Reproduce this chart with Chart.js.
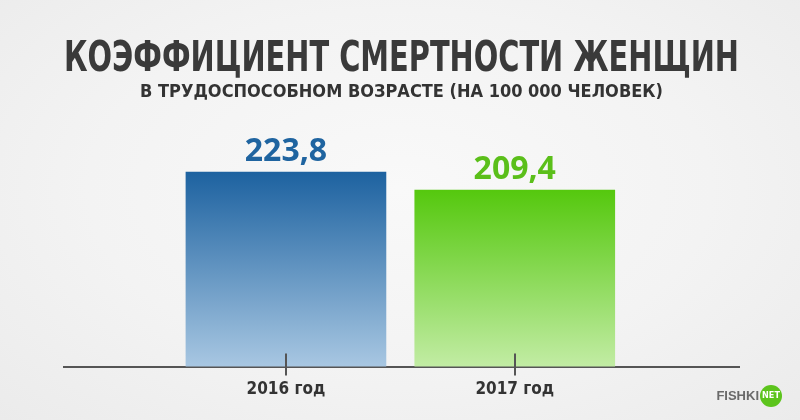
<!DOCTYPE html>
<html>
<head>
<meta charset="utf-8">
<script src="https://cdn.jsdelivr.net/npm/chart.js@4.4.1/dist/chart.umd.min.js"></script>
<style>
    html, body { margin: 0; padding: 0; }
    body {
        width: 800px; height: 420px; overflow: hidden;
        background: radial-gradient(ellipse at 50% 45%, #f9f9f9 0%, #f3f3f3 55%, #ebebeb 100%);
    }
    #wrap { width: 800px; height: 420px; }
</style>
</head>
<body>
<div id="wrap"><canvas id="chart"></canvas></div>
<script>
const years = ['2016 год', '2017 год'];
const rates = [223.8, 209.4];
const barTop = ['#1d62a0', '#55c80e'];
const barBottom = ['#a8c7e2', '#c2eca4'];
const labelColors = ['#1f64a0', '#5bbf1a'];

const titleText = 'КОЭФФИЦИЕНТ СМЕРТНОСТИ ЖЕНЩИН';
const subtitleText = 'В ТРУДОСПОСОБНОМ ВОЗРАСТЕ (НА 100 000 ЧЕЛОВЕК)';

const narrow = '"Liberation Sans Narrow", "DejaVu Sans Condensed", sans-serif';

// value labels over the bars, tick marks across the axis, watermark
const extras = {
    id: 'extras',
    afterDatasetsDraw(chart) {
        const ctx = chart.ctx;
        const meta = chart.getDatasetMeta(0);
        ctx.save();
        ctx.font = 'bold 32px "Open Sans", sans-serif';
        ctx.textAlign = 'center';
        ctx.textBaseline = 'middle';
        meta.data.forEach((bar, i) => {
            ctx.fillStyle = labelColors[i];
            ctx.fillText(rates[i].toFixed(1).replace('.', ','), bar.x, bar.y - 20);
        });
        ctx.restore();
    },
    afterDraw(chart) {
        const ctx = chart.ctx;
        const x = chart.scales.x;
        const base = chart.chartArea.bottom;
        ctx.save();
        ctx.strokeStyle = '#555';
        ctx.lineWidth = 2;
        years.forEach((_, i) => {
            const px = Math.round(x.getPixelForValue(i + 1));
            ctx.beginPath();
            ctx.moveTo(px, base - 13);
            ctx.lineTo(px, base + 9);
            ctx.stroke();
        });

        // FISHKI NET
        ctx.font = 'bold 13px "Liberation Sans", Arial, sans-serif';
        ctx.fillStyle = '#6a6a6a';
        ctx.textAlign = 'right';
        ctx.textBaseline = 'middle';
        ctx.fillText('FISHKI', 759, 396);
        ctx.fillStyle = '#5cc41c';
        ctx.beginPath();
        ctx.arc(771, 396, 11, 0, Math.PI * 2);
        ctx.fill();
        ctx.fillStyle = '#fff';
        ctx.textAlign = 'center';
        ctx.font = 'bold 9px ' + narrow;
        ctx.fillText('NET', 771, 396);
        ctx.restore();
    }
};

const data = {
    datasets: [{
        label: 'Коэффициент смертности',
        data: rates.map((v, i) => ({ x: i + 1, y: v })),
        barThickness: 200,
        borderWidth: 0,
        backgroundColor: (c) => {
            const chart = c.chart;
            const i = c.dataIndex;
            if (!chart.chartArea || c.raw === undefined) return barTop[i] || barTop[0];
            const y = chart.scales.y;
            const g = chart.ctx.createLinearGradient(0, y.getPixelForValue(rates[i]), 0, y.getPixelForValue(y.min));
            g.addColorStop(0, barTop[i]);
            g.addColorStop(1, barBottom[i]);
            return g;
        }
    }]
};

const config = {
    type: 'bar',
    data: data,
    options: {
        responsive: true,
        maintainAspectRatio: false,
        animation: false,
        layout: {
            padding: { top: 39, left: 64, right: 61, bottom: 7 }
        },
        plugins: {
            legend: { display: false },
            tooltip: { enabled: false },
            title: {
                display: true,
                text: titleText,
                color: '#3a3a3a',
                font: { family: narrow, size: 42, weight: 'bold', lineHeight: 1 },
                padding: { top: 0, bottom: 2 }
            },
            subtitle: {
                display: true,
                text: subtitleText,
                color: '#333',
                font: { family: narrow, size: 18, weight: 'bold', lineHeight: 1 },
                padding: { top: 0, bottom: 19 }
            }
        },
        scales: {
            x: {
                type: 'linear',
                min: 0.03,
                max: 2.98,
                offset: false,
                z: 1,
                grid: { display: false, drawTicks: false },
                border: { display: true, color: '#555', width: 2 },
                ticks: {
                    stepSize: 1,
                    includeBounds: false,
                    padding: 13,
                    color: '#333',
                    font: { family: narrow, size: 17, weight: 'bold' },
                    callback: (v) => years[v - 1] || ''
                }
            },
            y: {
                display: false,
                min: 68.6,
                max: 265.4
            }
        }
    }
};

new Chart(document.getElementById('chart').getContext('2d'), { ...config, plugins: [extras] });
</script>
</body>
</html>
